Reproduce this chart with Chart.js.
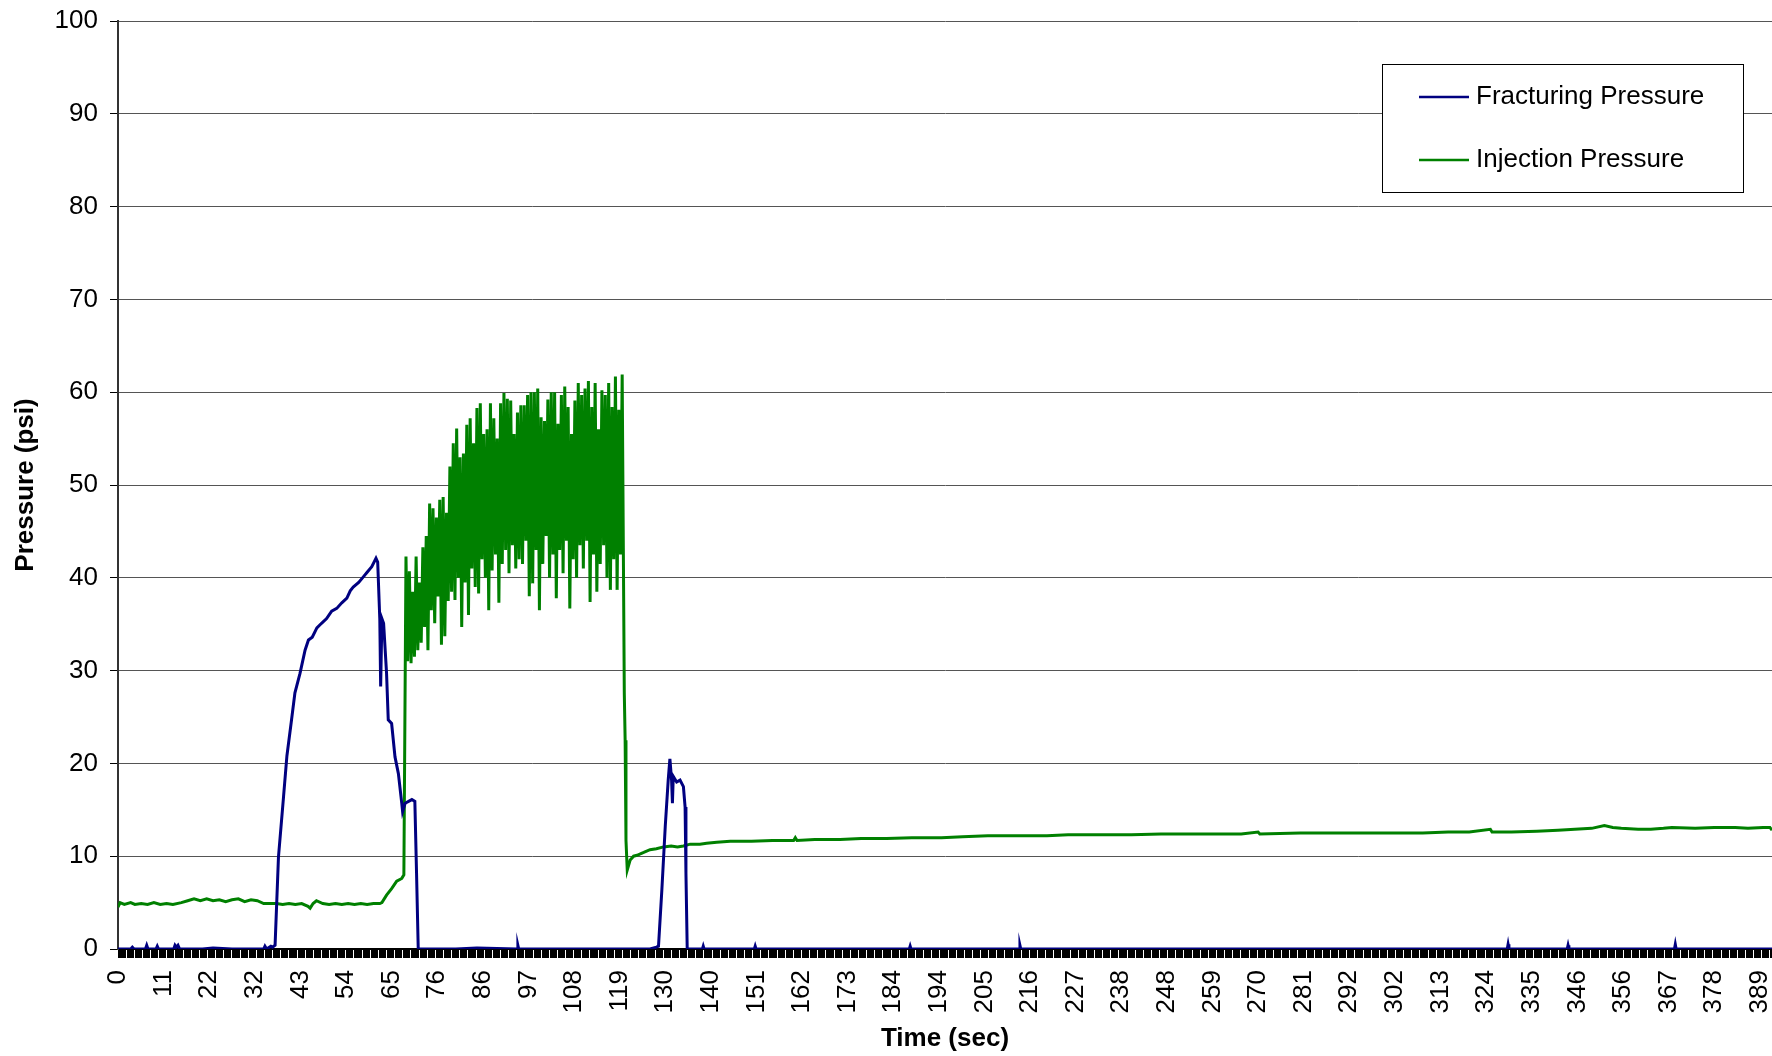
<!DOCTYPE html>
<html>
<head>
<meta charset="utf-8">
<title>Fracturing / Injection Pressure</title>
<script src="https://cdn.jsdelivr.net/npm/chart.js@4.4.0/dist/chart.umd.min.js"></script>
<style>
  html, body { margin: 0; padding: 0; background: #fff; }
  canvas { display: block; }
</style>
</head>
<body>
<canvas id="pressureChart" width="1772" height="1056"></canvas>
<script>
// Time axis labels (one every 40 logger samples)
const tickLabels = ['0', '11', '22', '32', '43', '54', '65', '76', '86', '97', '108', '119', '130',
  '140', '151', '162', '173', '184', '194', '205', '216', '227', '238', '248', '259', '270', '281',
  '292', '302', '313', '324', '335', '346', '356', '367', '378', '389'];
const sampleStep = 0.27;   // sec between logger samples
const axisEnd = 391.7;

// Fracturing pressure (psi)
const fracTime = [0, 3, 3.4, 3.8, 6.5, 6.8, 7.1, 9.0, 9.3, 9.6, 13.2, 13.5, 13.8, 14.2, 14.6, 20, 22.5, 27,
  34.5, 34.8, 35.2, 36.2, 36.6, 37.2,
  38.0, 39.2, 40.0, 41.1, 41.9, 43.1, 44.3, 45.1, 46.0, 47.1, 48.2, 49.4, 50.6, 51.8, 53.0, 54.2,
  55.0, 55.7, 57.0, 58.1, 59.0, 60.1, 61.1, 61.5, 62.0, 62.2, 62.5, 62.9, 63.6, 64.0, 64.8, 65.6,
  66.4, 67.2, 67.4, 68.0, 69.6, 70.3, 70.7, 71.1,
  80, 85, 94.5, 94.7, 94.9, 126.0, 127.5, 128.0,
  128.8, 129.6, 130.3, 130.7, 131.1, 131.3, 131.5, 132.3, 133.1, 133.9, 134.3, 134.5, 134.8,
  138.4, 138.6, 138.8, 150.7, 150.9, 151.1, 187.4, 187.6, 187.8, 213.4, 213.6, 213.8,
  329.0, 329.2, 329.4, 343.2, 343.4, 343.6, 368.6, 368.8, 369.0, 391.7];
const fracPsi = [0, 0, 0.2, 0, 0, 0.4, 0, 0, 0.3, 0, 0, 0.4, 0.2, 0.4, 0, 0, 0.1, 0,
  0, 0.3, 0, 0.3, 0.2, 0.4,
  9.9, 16.4, 20.8, 24.7, 27.6, 29.7, 32.2, 33.3, 33.6, 34.6, 35.1, 35.6, 36.4, 36.7, 37.3, 37.8,
  38.6, 39.0, 39.5, 40.1, 40.6, 41.2, 42.1, 41.7, 35.5, 28.3, 35.6, 35.1, 29.7, 24.7, 24.3, 20.7,
  18.9, 15.7, 14.8, 15.7, 16.1, 15.9, 8.2, 0,
  0, 0.1, 0, 0.4, 0, 0, 0.2, 0.3,
  6.4, 13.2, 18.2, 20.5, 18.2, 15.7, 18.6, 18.0, 18.2, 17.5, 15.3, 8.2, 0,
  0, 0.3, 0, 0, 0.3, 0, 0, 0.3, 0, 0, 0.4, 0,
  0, 0.5, 0, 0, 0.4, 0, 0, 0.5, 0, 0];

// Injection pressure (psi)
const injTime = [0, 0.5, 1.5, 3, 4, 5.5, 7, 8.5, 10, 11.5, 13, 15, 16.5, 18, 19.5, 21, 22.5, 24, 25.5,
  27, 28.5, 30, 31.5, 33, 34.5, 36, 37.5, 39, 40.5, 42, 43.5, 45, 45.5, 46.2, 47, 48.5, 50, 51.5,
  53, 54.5, 56, 57.5, 59, 60.5, 62, 62.5, 63.6, 64.8, 66.0, 67.2, 67.7,
  // pulsing section
  68.2, 68.6, 69.0, 69.4, 69.8, 70.2, 70.6, 71.0, 71.4, 71.8, 72.2, 72.6, 73.0, 73.4, 73.8, 74.2,
  74.6, 75.0, 75.4, 75.8, 76.2, 76.6, 77.0, 77.4, 77.8, 78.2, 78.6, 79.0, 79.4, 79.8, 80.2, 80.6,
  81.0, 81.4, 81.8, 82.2, 82.6, 83.0, 83.4, 83.8, 84.2, 84.6, 85.0, 85.4, 85.8, 86.2, 86.6, 87.0,
  87.4, 87.8, 88.2, 88.6, 89.0, 89.4, 89.8, 90.2, 90.6, 91.0, 91.4, 91.8, 92.2, 92.6, 93.0, 93.4,
  93.8, 94.2, 94.6, 95.0, 95.4, 95.8, 96.2, 96.6, 97.0, 97.4, 97.8, 98.2, 98.6, 99.0, 99.4, 99.8,
  100.2, 100.6, 101.0, 101.4, 101.8, 102.2, 102.6, 103.0, 103.4, 103.8, 104.2, 104.6, 105.0, 105.4,
  105.8, 106.2, 106.6, 107.0, 107.4, 107.8, 108.2, 108.6, 109.0, 109.4, 109.8, 110.2, 110.6, 111.0,
  111.4, 111.8, 112.2, 112.6, 113.0, 113.4, 113.8, 114.2, 114.6, 115.0, 115.4, 115.8, 116.2, 116.6,
  117.0, 117.4, 117.8, 118.2, 118.6, 119.0, 119.4,
  // drop and slow recovery
  119.9, 120.1, 120.3, 120.6, 121.3, 122.1, 122.9, 124.5, 126.0, 127.5, 129.2, 131.0, 132.5, 133.9,
  135.5, 137.8, 139.4, 141.8, 145, 150, 155, 160, 160.4, 160.8, 165, 171, 176, 182, 188, 195, 200,
  206, 213, 220, 225, 232, 240, 247, 255, 266, 270, 270.4, 280, 287, 295, 302, 309, 315, 320, 325,
  325.4, 330, 336, 341, 345, 349, 352, 354, 356, 360, 363, 366, 368, 373.5, 378, 383, 386, 389.6,
  391.2, 391.7];
const injPsi = [4.5, 5.0, 4.8, 5.0, 4.8, 4.9, 4.8, 5.0, 4.8, 4.9, 4.8, 5.0, 5.2, 5.4, 5.2, 5.4, 5.2, 5.3, 5.1,
  5.3, 5.4, 5.1, 5.3, 5.2, 4.9, 4.9, 4.9, 4.8, 4.9, 4.8, 4.9, 4.6, 4.4, 4.9, 5.2, 4.9, 4.8, 4.9,
  4.8, 4.9, 4.8, 4.9, 4.8, 4.9, 4.9, 5.0, 5.8, 6.5, 7.3, 7.6, 8.0,
  // pulsing section
  42.3, 31.0, 40.7, 30.8, 38.5, 31.5, 42.3, 32.2, 39.5, 33.0, 43.3, 34.7, 44.5, 32.2, 48.0, 36.5,
  47.5, 35.1, 46.5, 38.0, 48.4, 32.8, 48.7, 33.7, 47.0, 37.5, 52.0, 38.5, 54.5, 37.6, 56.1, 40.0,
  53.0, 34.7, 53.4, 39.5, 56.5, 36.0, 57.2, 41.0, 54.5, 39.0, 58.3, 38.3, 58.8, 42.0, 55.5, 40.0,
  56.0, 36.5, 58.8, 40.8, 57.2, 42.5, 55.0, 37.3, 58.8, 41.5, 59.9, 43.0, 59.3, 40.5, 59.1, 43.5,
  55.5, 41.0, 57.8, 42.0, 58.6, 41.5, 58.6, 44.0, 59.7, 38.0, 60.0, 39.4, 60.0, 43.0, 60.4, 36.5,
  57.3, 41.5, 56.9, 44.5, 59.2, 40.0, 60.0, 42.5, 60.0, 37.8, 56.6, 43.0, 59.7, 40.5,
  60.6, 44.0, 58.4, 36.7, 55.5, 42.0, 59.1, 40.0, 61.0, 43.5, 59.7, 41.0, 60.4, 44.0,
  61.2, 37.4, 58.4, 42.5, 61.0, 38.5, 56.0, 41.5, 60.2, 43.5, 59.7, 40.0, 61.0, 38.7,
  58.4, 42.0, 61.7, 38.7, 58.1, 42.5, 61.9,
  // drop and slow recovery
  27.6, 22.5, 11.7, 8.5, 9.6, 10.0, 10.1, 10.4, 10.7, 10.8, 11.0, 11.1, 11.0, 11.1,
  11.3, 11.3, 11.4, 11.5, 11.6, 11.6, 11.7, 11.7, 12.0, 11.7, 11.8, 11.8, 11.9, 11.9, 12.0, 12.0, 12.1,
  12.2, 12.2, 12.2, 12.3, 12.3, 12.3, 12.4, 12.4, 12.4, 12.6, 12.4, 12.5, 12.5, 12.5, 12.5, 12.5, 12.6, 12.6, 12.9,
  12.6, 12.6, 12.7, 12.8, 12.9, 13.0, 13.3, 13.1, 13.0, 12.9, 12.9, 13.0, 13.1, 13.0, 13.1, 13.1, 13.0, 13.1,
  13.1, 12.8];

const fontFamily = '"Liberation Sans", Arial, sans-serif';

// Dense tick marks, one per logger sample
const tickValues = [];
for (let j = 0; j * sampleStep <= axisEnd; j++) {
  tickValues.push(Math.round(j * sampleStep * 100) / 100);
}

// Legend drawn as a framed box inside the plot, like the original
const boxLegend = {
  id: 'boxLegend',
  afterDraw(chart) {
    const { ctx, chartArea } = chart;
    const w = 361, h = 128;
    const left = chartArea.right - 29 - w;
    const top = chartArea.top + 43;
    ctx.save();
    ctx.fillStyle = '#fff';
    ctx.fillRect(left, top, w, h);
    ctx.strokeStyle = '#000';
    ctx.lineWidth = 1;
    ctx.strokeRect(left + 0.5, top + 0.5, w, h);
    ctx.font = '26px ' + fontFamily;
    ctx.textBaseline = 'middle';
    chart.data.datasets.forEach((ds, i) => {
      const y = top + 33 + i * 63;
      ctx.strokeStyle = ds.borderColor;
      ctx.lineWidth = 2.5;
      ctx.beginPath();
      ctx.moveTo(left + 37, y);
      ctx.lineTo(left + 87, y);
      ctx.stroke();
      ctx.fillStyle = '#000';
      ctx.fillText(ds.label, left + 94, y);
    });
    ctx.restore();
  }
};

const ctx = document.getElementById('pressureChart').getContext('2d');
const chart = new Chart(ctx, {
  type: 'line',
  data: {
    datasets: [{
      label: 'Fracturing Pressure',
      data: fracTime.map((t, i) => ({ x: t, y: fracPsi[i] })),
      borderColor: '#000080',
      borderWidth: 3,
      pointRadius: 0,
      tension: 0,
      fill: false
    },
    {
      label: 'Injection Pressure',
      data: injTime.map((t, i) => ({ x: t, y: injPsi[i] })),
      borderColor: '#008000',
      borderWidth: 3,
      pointRadius: 0,
      tension: 0,
      fill: false
    }]
  },
  options: {
    responsive: false,
    animation: false,
    layout: { padding: { top: 21, right: 0, bottom: 0, left: 0 } },
    plugins: {
      legend: { display: false },
      tooltip: { enabled: false }
    },
    scales: {
      x: {
        type: 'linear',
        min: 0,
        max: axisEnd,
        afterBuildTicks: scale => {
          scale.ticks = tickValues.map(v => ({ value: v }));
        },
        afterFit: scale => {
          scale.height = 107;
          scale.paddingLeft = 0;
          scale.paddingRight = 0;
        },
        ticks: {
          autoSkip: false,
          minRotation: 90,
          maxRotation: 90,
          padding: 12,
          color: '#000',
          font: { family: fontFamily, size: 26 },
          callback: (value, index) => (index % 40 === 0 ? tickLabels[index / 40] : '')
        },
        grid: {
          drawOnChartArea: false,
          tickLength: 9,
          tickColor: '#000',
          lineWidth: 1
        },
        border: { color: '#000', width: 2 },
        title: {
          display: true,
          text: 'Time (sec)',
          color: '#000',
          font: { family: fontFamily, size: 26, weight: 'bold' },
          padding: { top: 0, bottom: 2 }
        }
      },
      y: {
        min: 0,
        max: 100,
        afterFit: scale => {
          scale.width = 118;
          scale.paddingTop = 0;
          scale.paddingBottom = 0;
        },
        ticks: {
          stepSize: 10,
          padding: 12,
          color: '#000',
          font: { family: fontFamily, size: 26 }
        },
        grid: { color: '#555', tickColor: '#000', tickLength: 8, lineWidth: 1 },
        border: { color: '#333', width: 2 },
        title: {
          display: true,
          text: 'Pressure (psi)',
          color: '#000',
          font: { family: fontFamily, size: 26, weight: 'bold' },
          padding: { top: 10, bottom: 0 }
        }
      }
    }
  },
  plugins: [boxLegend]
});
</script>
</body>
</html>
